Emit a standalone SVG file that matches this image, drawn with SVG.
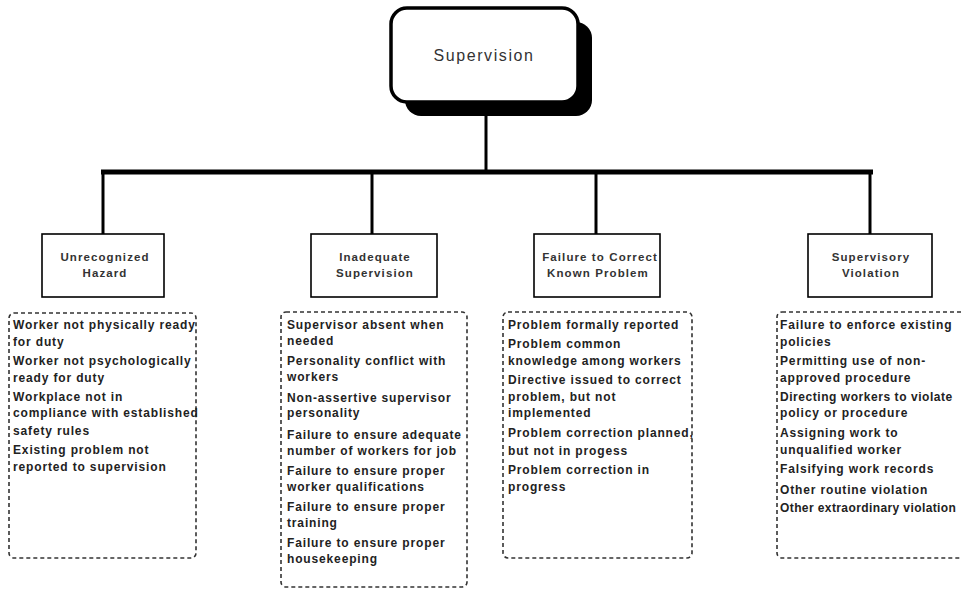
<svg xmlns="http://www.w3.org/2000/svg" width="961" height="591" viewBox="0 0 961 591">
<style>
.bg{fill:#fff}
.cat{fill:#fff;stroke:#000;stroke-width:1.6}
.list{fill:none;stroke:#333;stroke-width:1.6;stroke-dasharray:4 3}
.lbl{font-family:"Liberation Sans",Arial,sans-serif;font-size:11.5px;font-weight:bold;fill:#333;letter-spacing:1.1px;text-anchor:middle}
.it{font-family:"Liberation Sans",Arial,sans-serif;font-size:12px;font-weight:bold;fill:#222;letter-spacing:0.85px}
.conn{stroke:#000;fill:none}
</style>
<rect class="bg" x="0" y="0" width="961" height="591"/>
<g id="connectors">
<line class="conn" x1="486" y1="102" x2="486" y2="172" stroke-width="3"/>
<line class="conn" x1="101" y1="172" x2="873" y2="172" stroke-width="5"/>
<line class="conn" x1="103" y1="172" x2="103" y2="235" stroke-width="3"/>
<line class="conn" x1="372" y1="172" x2="372" y2="235" stroke-width="3"/>
<line class="conn" x1="596" y1="172" x2="596" y2="235" stroke-width="3"/>
<line class="conn" x1="870" y1="172" x2="870" y2="235" stroke-width="3"/>
</g>
<g id="supervision">
<rect x="405" y="22" width="187" height="94" rx="16" fill="#000"/>
<rect x="391" y="8" width="187" height="94" rx="16" fill="#fff" stroke="#000" stroke-width="3.5"/>
<text x="484" y="61" font-family="Liberation Sans,Arial,sans-serif" font-size="16" fill="#333" letter-spacing="1.6" text-anchor="middle">Supervision</text>
</g>
<g id="unrecognized-hazard">
<rect class="cat" x="42" y="234" width="122" height="63"/>
<text class="lbl" x="105" y="261">Unrecognized</text>
<text class="lbl" x="105" y="277">Hazard</text>
</g>
<g id="inadequate-supervision">
<rect class="cat" x="311" y="234" width="126" height="63"/>
<text class="lbl" x="375" y="261">Inadequate</text>
<text class="lbl" x="375" y="277">Supervision</text>
</g>
<g id="failure-to-correct">
<rect class="cat" x="534" y="234" width="126" height="63"/>
<text class="lbl" x="600" y="261">Failure to Correct</text>
<text class="lbl" x="598" y="277">Known Problem</text>
</g>
<g id="supervisory-violation">
<rect class="cat" x="808" y="234" width="124" height="63"/>
<text class="lbl" x="871" y="261">Supervisory</text>
<text class="lbl" x="871" y="277">Violation</text>
</g>
<g id="hazard-list">
<rect class="list" x="9" y="313" width="187" height="245" rx="5"/>
<text class="it" x="13" y="329">Worker not physically ready</text>
<text class="it" x="13" y="346">for duty</text>
<text class="it" x="13" y="365">Worker not psychologically</text>
<text class="it" x="13" y="382">ready for duty</text>
<text class="it" x="13" y="401">Workplace not in</text>
<text class="it" x="13" y="417">compliance with established</text>
<text class="it" x="13" y="435">safety rules</text>
<text class="it" x="13" y="454">Existing problem not</text>
<text class="it" x="13" y="471">reported to supervision</text>
</g>
<g id="supervision-list">
<rect class="list" x="281" y="312" width="186" height="275" rx="5"/>
<text class="it" x="287" y="329">Supervisor absent when</text>
<text class="it" x="287" y="345">needed</text>
<text class="it" x="287" y="365">Personality conflict with</text>
<text class="it" x="287" y="381">workers</text>
<text class="it" x="287" y="402">Non-assertive supervisor</text>
<text class="it" x="287" y="417">personality</text>
<text class="it" x="287" y="439">Failure to ensure adequate</text>
<text class="it" x="287" y="455">number of workers for job</text>
<text class="it" x="287" y="475">Failure to ensure proper</text>
<text class="it" x="287" y="491">worker qualifications</text>
<text class="it" x="287" y="511">Failure to ensure proper</text>
<text class="it" x="287" y="527">training</text>
<text class="it" x="287" y="547">Failure to ensure proper</text>
<text class="it" x="287" y="563">housekeeping</text>
</g>
<g id="problem-list">
<rect class="list" x="503" y="312" width="189" height="246" rx="5"/>
<text class="it" x="508" y="329">Problem formally reported</text>
<text class="it" x="508" y="348">Problem common</text>
<text class="it" x="508" y="365">knowledge among workers</text>
<text class="it" x="508" y="384">Directive issued to correct</text>
<text class="it" x="508" y="401">problem, but not</text>
<text class="it" x="508" y="417">implemented</text>
<text class="it" x="508" y="437">Problem correction planned,</text>
<text class="it" x="508" y="455">but not in progess</text>
<text class="it" x="508" y="474">Problem correction in</text>
<text class="it" x="508" y="491">progress</text>
</g>
<g id="violation-list">
<rect class="list" x="777" y="312" width="190" height="246" rx="5"/>
<text class="it" x="780" y="329">Failure to enforce existing</text>
<text class="it" x="780" y="346">policies</text>
<text class="it" x="780" y="365">Permitting use of non-</text>
<text class="it" x="780" y="382">approved procedure</text>
<text class="it" x="780" y="401" style="letter-spacing:0.55px">Directing workers to violate</text>
<text class="it" x="780" y="417">policy or procedure</text>
<text class="it" x="780" y="437">Assigning work to</text>
<text class="it" x="780" y="454">unqualified worker</text>
<text class="it" x="780" y="473">Falsifying work records</text>
<text class="it" x="780" y="494">Other routine violation</text>
<text class="it" x="780" y="512" style="letter-spacing:0.4px">Other extraordinary violation</text>
</g>
</svg>
